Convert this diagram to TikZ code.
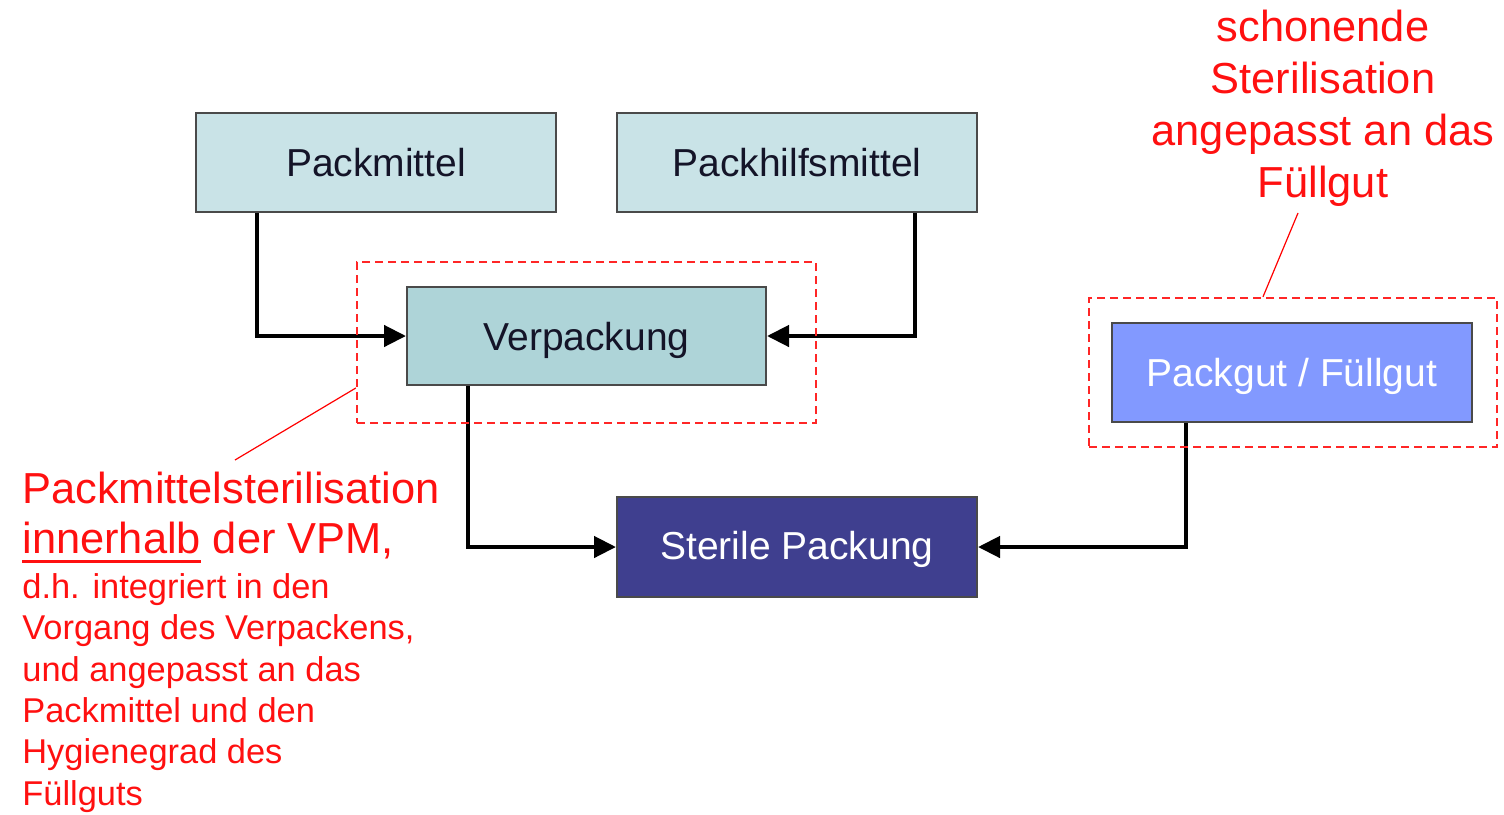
\documentclass[tikz,border=0pt]{standalone}
\usepackage{fontspec}
\setmainfont{Liberation Sans}
\usetikzlibrary{arrows.meta}
\definecolor{pmfill}{HTML}{C9E3E7}
\definecolor{vpfill}{HTML}{AED4D8}
\definecolor{pgfill}{HTML}{8299FF}
\definecolor{spfill}{HTML}{3F3F8F}
\definecolor{boxline}{HTML}{4A4A4A}
\definecolor{boxtext}{HTML}{141428}
\definecolor{annored}{HTML}{FF1010}
% thick underline set a little below the baseline
\newcommand\ulword[1]{\setbox0\hbox{#1}\rlap{\raisebox{-4.75pt}{\rule{\wd0}{1.5pt}}}\box0\relax}
\begin{document}
\begin{tikzpicture}[x=0.5pt,y=-0.5pt,
  box/.style={draw=boxline, line width=1pt, inner sep=0pt,
    minimum width=180pt, minimum height=49.5pt,
    text height=18pt, text depth=4pt,
    font=\fontsize{19.5}{23}\selectfont},
  lightbox/.style={box, fill=pmfill, text=boxtext},
  conn/.style={line width=2.2pt, -{Triangle[length=11pt,width=10.5pt]}},
  zone/.style={draw=red!85, dash pattern=on 4pt off 2.5pt, line width=1.2pt, inner sep=0pt},
  callout/.style={draw=red, line width=0.6pt},
  anno/.style={text=annored, inner sep=0pt, align=left}]
\useasboundingbox (0,0) rectangle (1504,814);

% process boxes
\node[lightbox] (pm) at (376,162.5) {Packmittel};
\node[lightbox] (ph) at (797,162.5) {Packhilfsmittel};
\node[box, fill=vpfill, text=boxtext, minimum width=179.5pt, minimum height=49pt] (vp) at (586.5,336) {Verpackung};
\node[box, fill=pgfill, text=white] (pg) at (1292,372.5) {Packgut / Füllgut};
\node[box, fill=spfill, text=white, minimum height=50pt, text height=16pt] (sp) at (797,547) {Sterile Packung};

% flow connectors
\draw[conn] ([xshift=31pt]pm.south west) |- (vp.west);
\draw[conn] ([xshift=-31.5pt]ph.south east) |- (vp.east);
\draw[conn] ([xshift=31pt]vp.south west) |- (sp.west);
\draw[conn] ([xshift=37.5pt]pg.south west) |- (sp.east);

% sterilisation zones
\node[zone, minimum width=229.5pt, minimum height=80.5pt] (zv) at (586.5,342.5) {};
\node[zone, minimum width=204pt, minimum height=74.5pt] (zp) at (1293,372.5) {};

% annotations
\node[anno, anchor=north, align=center, font=\fontsize{21.7}{26}\selectfont] (annoR) at (1323,10)
  {schonende\\Sterilisation\\angepasst an das\\Füllgut};
\node[anno, anchor=north west, font=\fontsize{21.7}{25}\selectfont] (annoL) at (22,472)
  {Packmittelsterilisation\\\ulword{innerhalb} der VPM,};
\node[anno, anchor=north west, font=\fontsize{17.2}{20.7}\selectfont] (annoLs) at (22,573)
  {d.h. integriert in den\\Vorgang des Verpackens,\\und angepasst an das\\Packmittel und den\\Hygienegrad des\\Füllguts};

\coordinate (c1) at (235,460);
\coordinate (c2) at (1298,213);
\draw[callout] ([yshift=-22.75pt]zv.west) -- (c1);
\draw[callout] ([xshift=-15pt]zp.north) -- (c2);
\end{tikzpicture}
\end{document}
